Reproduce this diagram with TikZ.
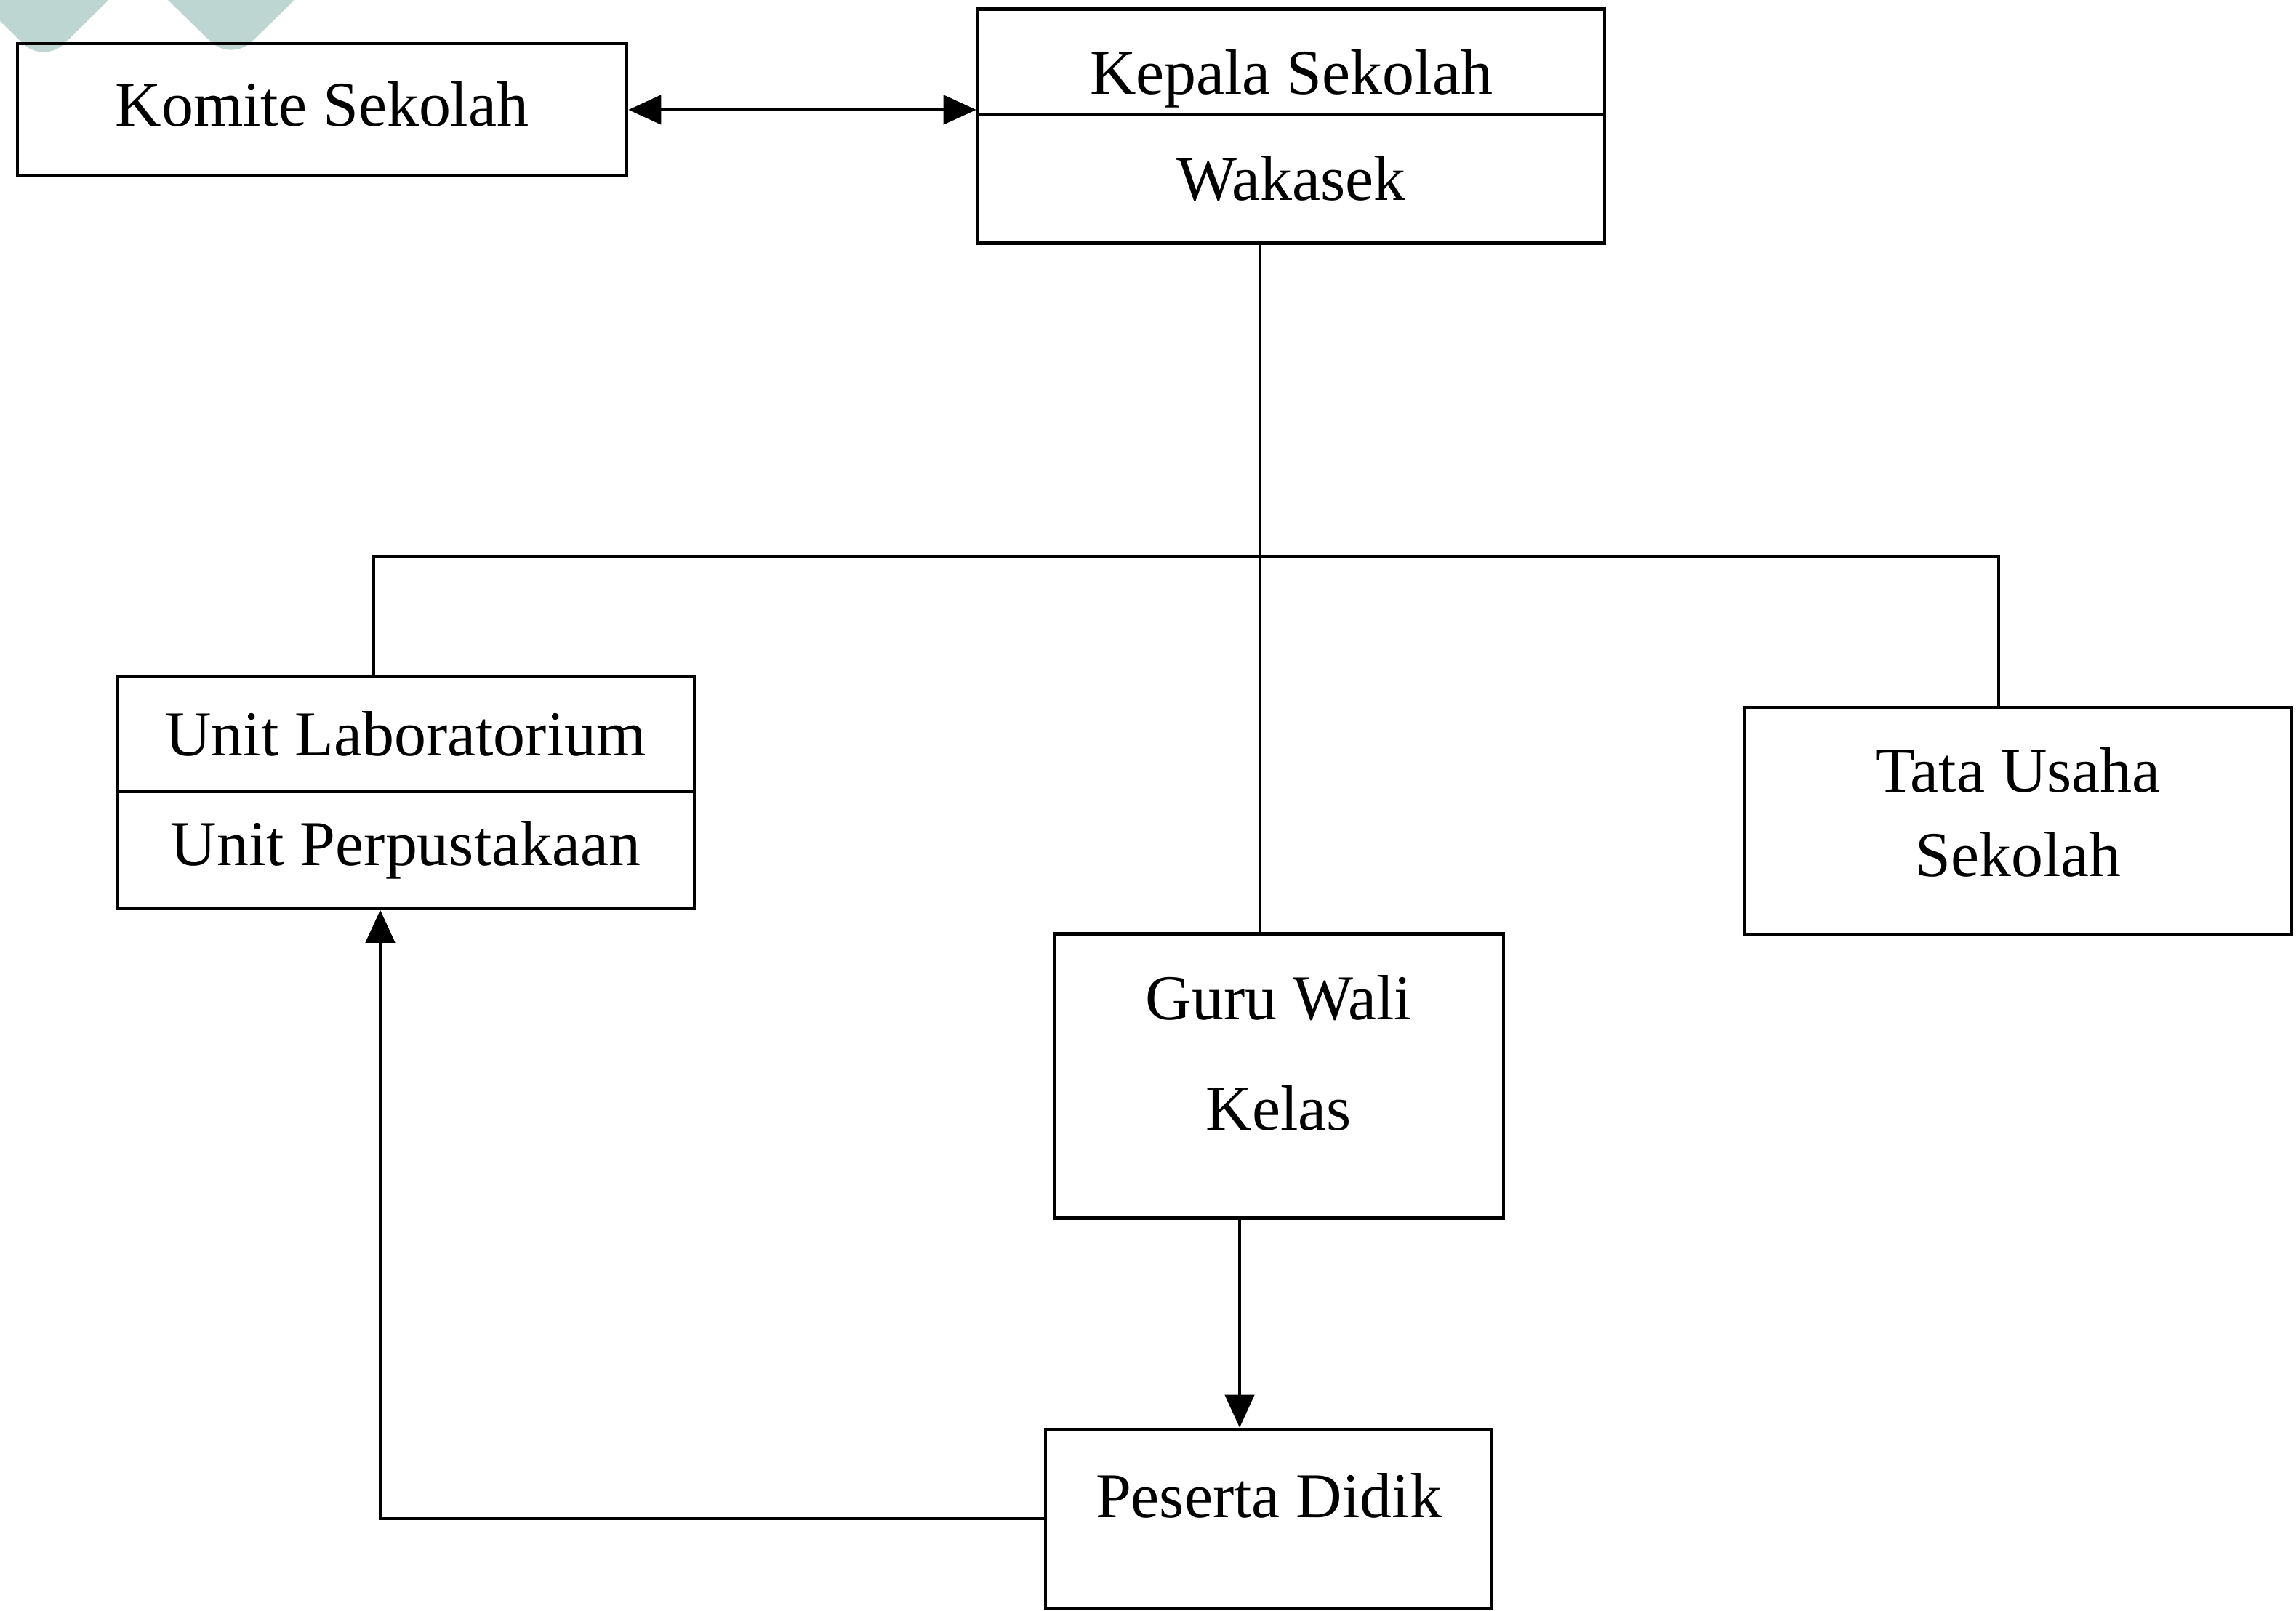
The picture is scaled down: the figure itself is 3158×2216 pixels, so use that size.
\documentclass[tikz,border=0pt]{standalone}
\usepackage{fontspec}
\setmainfont{Liberation Serif}
\usetikzlibrary{arrows.meta}
\definecolor{markteal}{RGB}{190,214,210}

\begin{document}
\begin{tikzpicture}[x=0.1mm, y=-0.1mm,
    box/.style={draw, rectangle, inner sep=0pt, align=center, line width=1.3pt},
    link/.style={line width=1.3pt},
    tip/.style={-{Triangle[length=4.5mm, width=4mm]}},
    both/.style={{Triangle[length=4.5mm, width=4mm]}-{Triangle[length=4.5mm, width=4mm]}},
    font=\fontsize{25}{33}\selectfont]
    \useasboundingbox (0,0) rectangle (3158,2216);

    % Watermark
    \fill[markteal, rounded corners=4mm] (-70,-40) -- (60,88) -- (190,-40) -- cycle;
    \fill[markteal, rounded corners=4mm] (190,-40) -- (318,85) -- (446,-40) -- cycle;

    % Nodes
    \node[box, minimum width=8.38cm, minimum height=1.82cm] (komite) at (443,151) {Komite Sekolah\rule[-1.6mm]{0pt}{0pt}};
    \node[box, minimum width=8.62cm, text height=1.17cm, text depth=0.28cm] (kepala) at (1776,85) {Kepala Sekolah};
    \node[box, minimum width=8.62cm, minimum height=1.77cm] (wakasek) at (1776,246) {Wakasek};
    \node[box, minimum width=7.94cm, minimum height=1.58cm] (lab) at (558,1009) {Unit Laboratorium};
    \node[box, minimum width=7.94cm, minimum height=1.61cm] (pustaka) at (558,1169) {Unit Perpustakaan};
    \node[box, minimum width=7.52cm, minimum height=3.12cm] (tu) at (2776,1129) {Tata Usaha\\Sekolah\rule[-2.4mm]{0pt}{0pt}};
    \node[box, minimum width=6.18cm, minimum height=3.91cm, font=\fontsize{25}{43}\selectfont] (guru) at (1759,1480) {Guru Wali\\Kelas\rule[-6.4mm]{0pt}{0pt}};
    \node[box, minimum width=6.14cm, text height=1.21cm, text depth=1.25cm] (peserta) at (1745,2089) {Peserta Didik};
    \coordinate (bus) at (0,766);

    % Edges
    \draw[link, both] (komite.east) -- (komite.east -| kepala.west);
    \draw[link] ([xshift=-2.6mm]wakasek.south -| guru.north) -- ([xshift=-2.6mm]guru.north);
    \draw[link] ([xshift=-4.4mm]lab.north) |- ([xshift=-2.7mm]tu.north |- bus) -- ([xshift=-2.7mm]tu.north);
    \draw[link, tip] ([xshift=-4mm]peserta.north |- guru.south) -- ([xshift=-4mm]peserta.north);
    \draw[link, tip] (peserta.west) -| ([xshift=-3.5mm]pustaka.south);
\end{tikzpicture}
\end{document}
